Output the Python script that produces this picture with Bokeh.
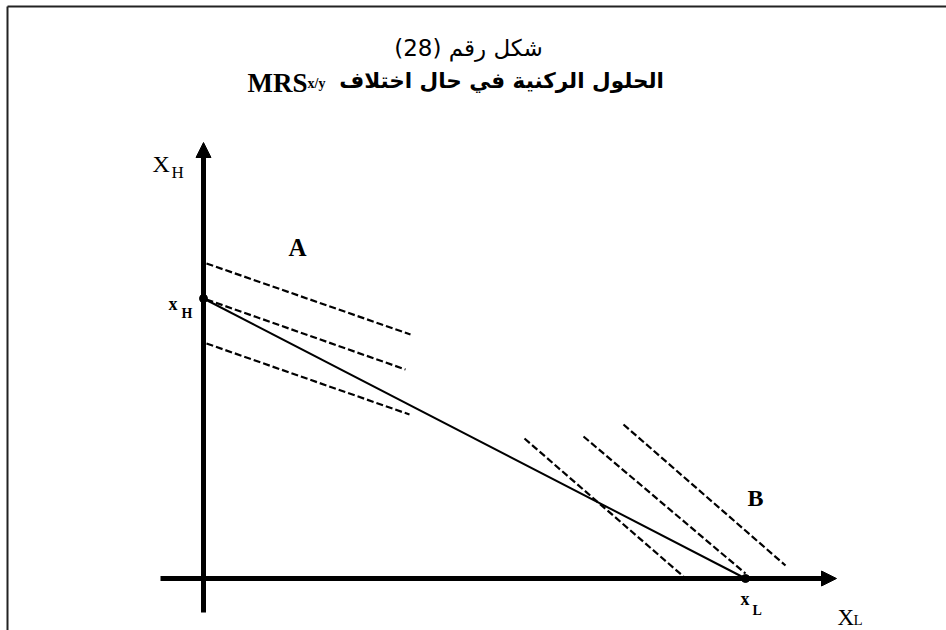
from bokeh.plotting import figure
from bokeh.models import Range1d, Arrow, NormalHead
from bokeh.core.properties import value
from bokeh.embed import file_html
from bokeh.resources import INLINE

# Intercepts of the contract line on each axis
x_H = 280
x_L = 542

# Indifference-curve tangents near corner A (x0, y0, x1, y1)
a_x0 = [3, 3, 3]
a_y0 = [315, 279, 235]
a_x1 = [207, 202, 206]
a_y1 = [244, 209, 164]

# Indifference-curve tangents near corner B
b_x0 = [321, 380, 420]
b_y0 = [140, 142, 154]
b_x1 = [480, 542, 582]
b_y1 = [2, 5, 13]

title_1 = "(28) شكل رقم"
title_2 = "الحلول الركنية في حال اختلاف"

W, H = 946, 630
p = figure(width=W, height=H, output_backend="svg", toolbar_location=None,
           x_range=Range1d(-203, 743), y_range=Range1d(-52, 578),
           x_axis_location=None, y_axis_location=None, min_border=0,
           outline_line_color=None)
p.grid.visible = False
p.background_fill_color = "white"
p.border_fill_color = "white"

# page frame (top and left edges)
p.line([-196, 743], [572, 572], line_color="#222222", line_width=2)
p.line([-196, -196], [572, -52], line_color="#222222", line_width=2)

# axes with arrow heads
p.add_layout(Arrow(x_start=0, y_start=-34, x_end=0, y_end=436,
                   line_width=5, line_color="black",
                   end=NormalHead(size=15, fill_color="black", line_color="black", line_width=1)))
p.add_layout(Arrow(x_start=-43, y_start=0, x_end=633, y_end=0,
                   line_width=5, line_color="black",
                   end=NormalHead(size=15, fill_color="black", line_color="black", line_width=1)))

# contract line between the two corner solutions
p.line([0, x_L], [x_H, 0], line_color="black", line_width=2)
p.scatter([0, x_L], [x_H, 0], size=8, color="black")

# dashed tangents
p.segment(x0=a_x0, y0=a_y0, x1=a_x1, y1=a_y1, line_color="black",
          line_width=2.2, line_dash="7 3")
p.segment(x0=b_x0, y0=b_y0, x1=b_x1, y1=b_y1, line_color="black",
          line_width=2.2, line_dash="7 3")

serif = value("Liberation Serif")
arab = value("DejaVu Sans")


def label(x, y, s, size, font=serif, style="normal", align="left"):
    p.text(x=[x], y=[y], text=[s], text_font=font, text_font_size=f"{size}px",
           text_font_style=style, text_align=align, text_baseline="alphabetic",
           text_color="black")


# titles
label(265, 531, title_1, 23, font=arab, align="center")
label(298, 498, title_2, 21.5, font=arab, style="bold", align="center")
label(104, 496, "MRS", 27, style="bold", align="right")
label(104, 495, "x/y", 14, style="bold")

# region labels
label(94, 331, "A", 25, style="bold", align="center")
label(552, 81, "B", 24, style="bold", align="center")

# axis names
label(-51, 415, "X", 24)
label(-32, 406, "H", 17)
label(634, -39, "X", 23)
label(650, -41, "L", 15)

# intercept labels
label(-35, 275, "x", 18, style="bold")
label(-22, 265, "H", 14, style="bold")
label(537, -20, "x", 18, style="bold")
label(549, -32, "L", 14, style="bold")

open("out.html", "w").write(file_html(p, INLINE))
